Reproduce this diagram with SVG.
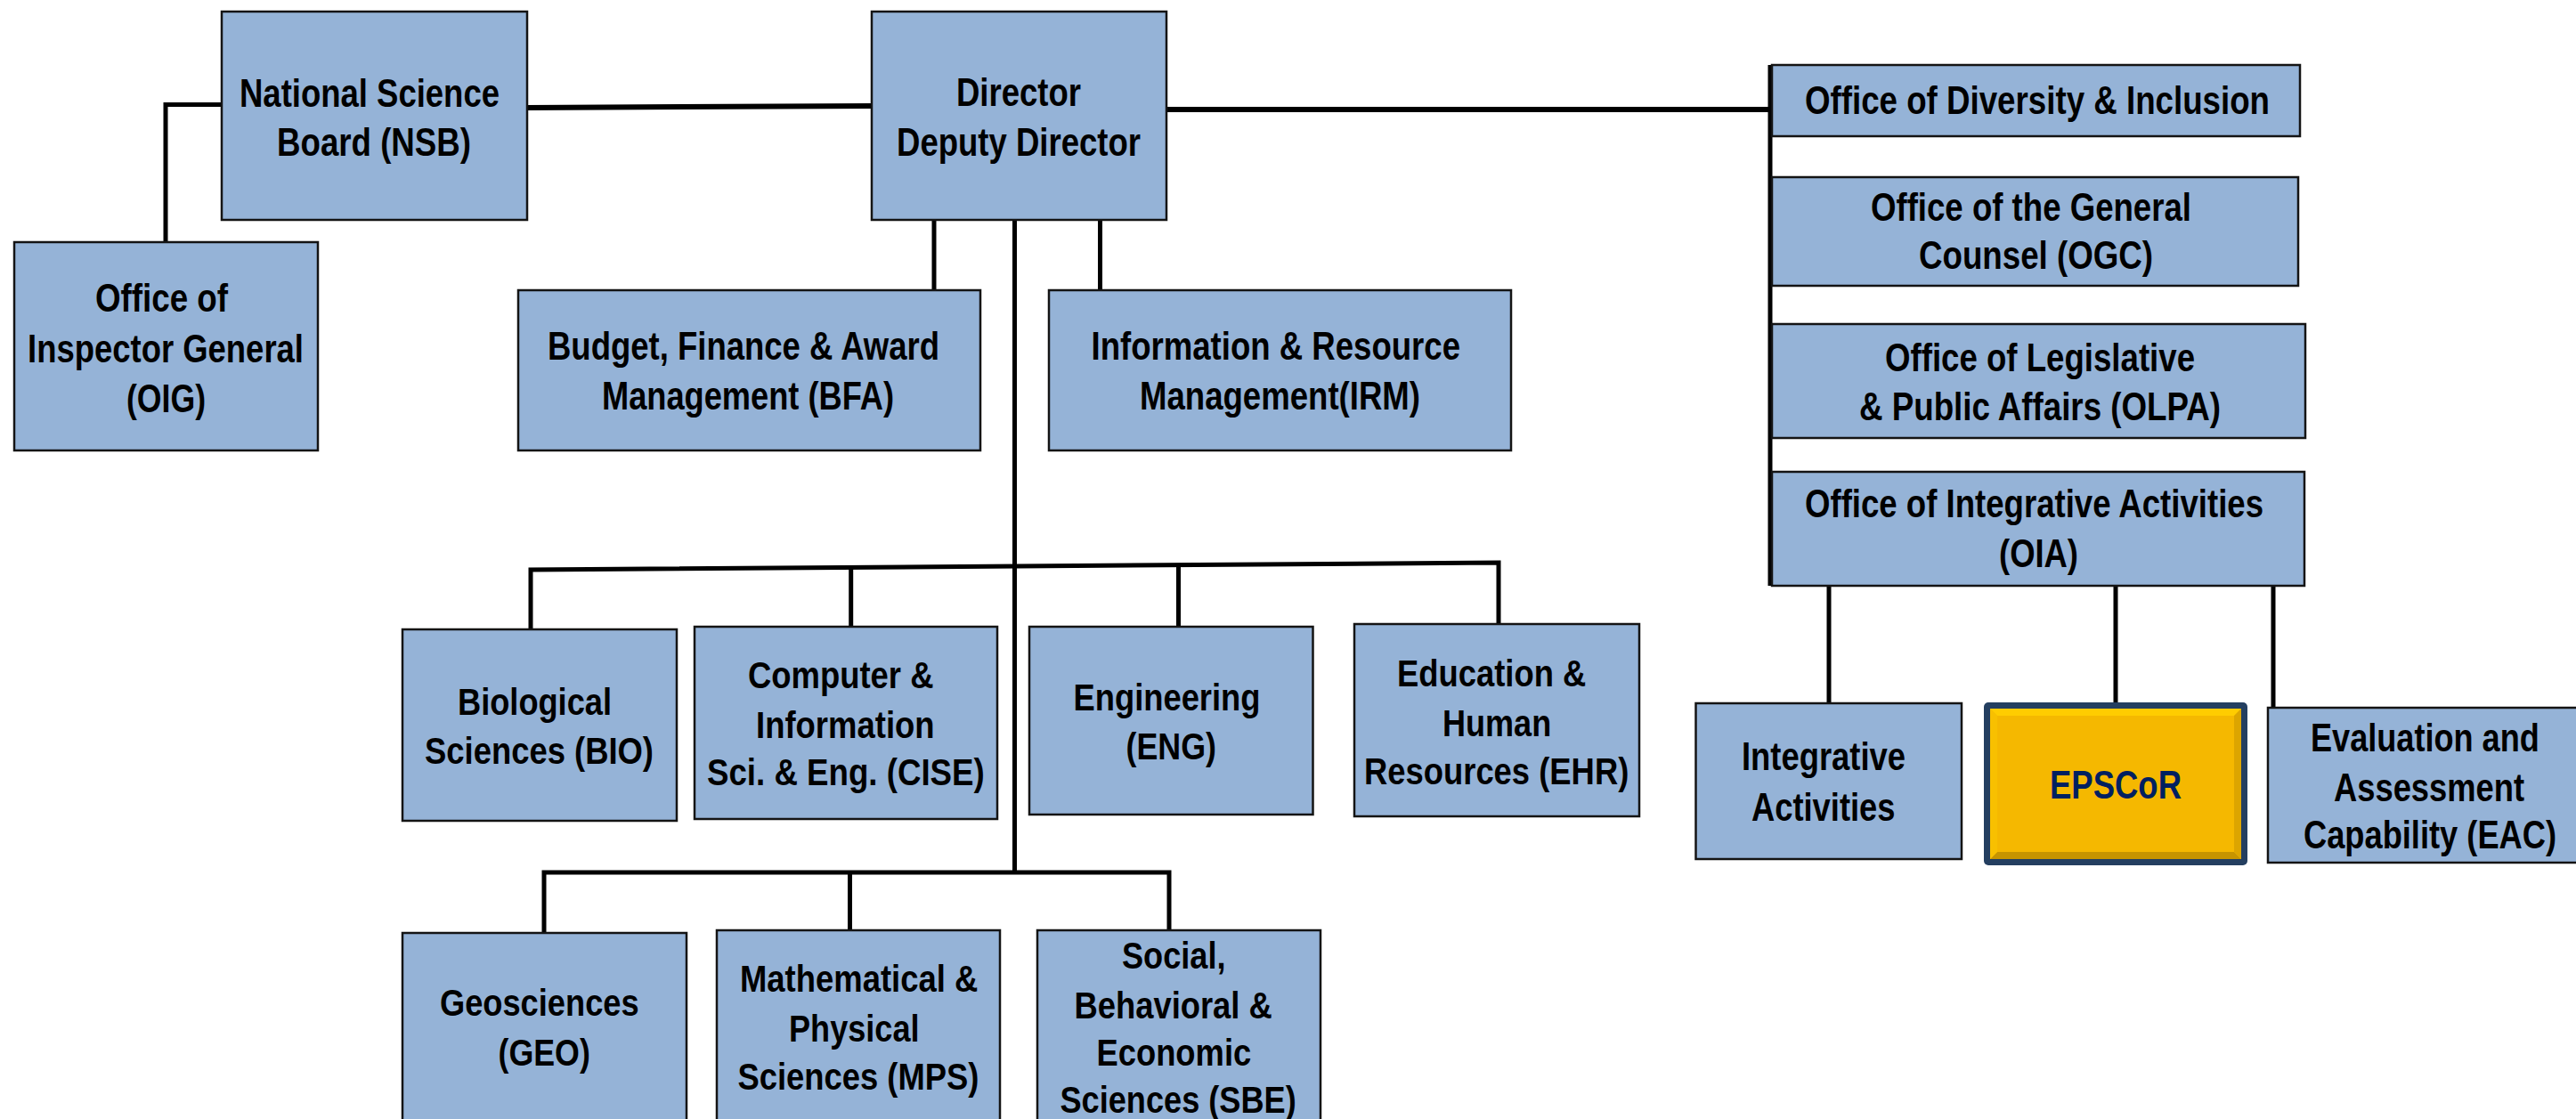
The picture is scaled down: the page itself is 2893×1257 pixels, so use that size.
<svg xmlns="http://www.w3.org/2000/svg" width="2893" height="1257" viewBox="0 0 2893 1257">
<style>
.box{fill:#95B3D7;stroke:#141414;stroke-width:2.5}
.t{font-family:"Liberation Sans Narrow","Liberation Sans",Arial,sans-serif;font-weight:bold;font-size:44px;fill:#000}
.d{font-size:42px}
.c{fill:none;stroke:#000;stroke-width:5;stroke-linejoin:miter;stroke-linecap:butt}
.thick{stroke-width:6}
</style>
<rect x="0" y="0" width="2893" height="1257" fill="#fff"/>
<g id="connectors">
<path class="c" d="M249,117.5 H186 V272"/>
<path class="c thick" d="M592,121 L979,119"/>
<path class="c thick" d="M1310,123 H1990"/>
<path class="c" d="M1988,73 V658"/>
<path class="c" d="M1049,247 V326"/>
<path class="c" d="M1235.5,247 V326"/>
<path class="c" d="M1139.5,247 V980"/>
<path class="c" d="M596,707 V640 L1683,632 V701"/>
<path class="c" d="M955.7,637 V704"/>
<path class="c" d="M1323.5,634 V704"/>
<path class="c" d="M611,1048 V980 H1313 V1045"/>
<path class="c" d="M954.5,980 V1045"/>
<path class="c" d="M2054,658 V790"/>
<path class="c" d="M2376,658 V790"/>
<path class="c" d="M2553,658 V795"/>
</g>
<g id="nsb"><rect class="box" x="249" y="13" width="343" height="234"/>
<text class="t" x="269" y="120" textLength="292" lengthAdjust="spacingAndGlyphs">National Science</text>
<text class="t" x="311" y="175" textLength="218" lengthAdjust="spacingAndGlyphs">Board (NSB)</text></g>
<g id="oig"><rect class="box" x="16" y="272" width="341" height="234"/>
<text class="t" x="107" y="350" textLength="149" lengthAdjust="spacingAndGlyphs">Office of</text>
<text class="t" x="31" y="407" textLength="310" lengthAdjust="spacingAndGlyphs">Inspector General</text>
<text class="t" x="142" y="463" textLength="89" lengthAdjust="spacingAndGlyphs">(OIG)</text></g>
<g id="director"><rect class="box" x="979" y="13" width="331" height="234"/>
<text class="t" x="1074" y="119" textLength="140" lengthAdjust="spacingAndGlyphs">Director</text>
<text class="t" x="1007" y="175" textLength="274" lengthAdjust="spacingAndGlyphs">Deputy Director</text></g>
<g id="bfa"><rect class="box" x="582" y="326" width="519" height="180"/>
<text class="t" x="615" y="404" textLength="440" lengthAdjust="spacingAndGlyphs">Budget, Finance &amp; Award</text>
<text class="t" x="676" y="460" textLength="328" lengthAdjust="spacingAndGlyphs">Management (BFA)</text></g>
<g id="irm"><rect class="box" x="1178" y="326" width="519" height="180"/>
<text class="t" x="1225.5" y="404" textLength="414.5" lengthAdjust="spacingAndGlyphs">Information &amp; Resource</text>
<text class="t" x="1280" y="460" textLength="315" lengthAdjust="spacingAndGlyphs">Management(IRM)</text></g>
<g id="odi"><rect class="box" x="1990" y="73" width="593" height="80"/>
<text class="t" x="2027" y="128" textLength="522" lengthAdjust="spacingAndGlyphs">Office of Diversity &amp; Inclusion</text></g>
<g id="ogc"><rect class="box" x="1990" y="199" width="591" height="122"/>
<text class="t" x="2101" y="248" textLength="360" lengthAdjust="spacingAndGlyphs">Office of the General</text>
<text class="t" x="2155" y="302" textLength="263" lengthAdjust="spacingAndGlyphs">Counsel (OGC)</text></g>
<g id="olpa"><rect class="box" x="1990" y="364" width="599" height="128"/>
<text class="t" x="2117" y="417" textLength="348" lengthAdjust="spacingAndGlyphs">Office of Legislative</text>
<text class="t" x="2088" y="472" textLength="406" lengthAdjust="spacingAndGlyphs">&amp; Public Affairs (OLPA)</text></g>
<g id="oia"><rect class="box" x="1990" y="530" width="598" height="128"/>
<text class="t" x="2027" y="581" textLength="515" lengthAdjust="spacingAndGlyphs">Office of Integrative Activities</text>
<text class="t" x="2245" y="637" textLength="89" lengthAdjust="spacingAndGlyphs">(OIA)</text></g>
<g id="ia"><rect class="box" x="1904.5" y="790" width="298.5" height="175"/>
<text class="t" x="1956" y="865" textLength="184" lengthAdjust="spacingAndGlyphs">Integrative</text>
<text class="t" x="1967" y="922" textLength="161.5" lengthAdjust="spacingAndGlyphs">Activities</text></g>
<g id="epscor">
<rect x="2228" y="789" width="296" height="183" rx="5" fill="#243F60"/>
<rect x="2235" y="796" width="282" height="169" fill="#F5B800"/>
<polygon points="2235,796 2517,796 2509,804 2243,804" fill="#FFCC00"/>
<polygon points="2235,965 2517,965 2509,957 2243,957" fill="#C69400"/>
<polygon points="2235,796 2243,804 2243,957 2235,965" fill="#F8C000"/>
<polygon points="2517,796 2509,804 2509,957 2517,965" fill="#DCA500"/>
<text class="t" x="2302" y="897" textLength="148" lengthAdjust="spacingAndGlyphs" style="fill:#002060">EPSCoR</text></g>
<g id="eac"><rect class="box" x="2547" y="795" width="349" height="174"/>
<text class="t" x="0" y="0" transform="translate(2595,844) scale(0.8,1)" textLength="321" lengthAdjust="spacingAndGlyphs">Evaluation and</text>
<text class="t" x="0" y="0" transform="translate(2621,900) scale(0.8,1)" textLength="267.5" lengthAdjust="spacingAndGlyphs">Assessment</text>
<text class="t" x="0" y="0" transform="translate(2587,953) scale(0.8,1)" textLength="355" lengthAdjust="spacingAndGlyphs">Capability (EAC)</text></g>
<g id="bio"><rect class="box" x="452" y="707" width="308" height="215"/>
<text class="t d" x="514" y="803" textLength="173" lengthAdjust="spacingAndGlyphs">Biological</text>
<text class="t d" x="477" y="858" textLength="257" lengthAdjust="spacingAndGlyphs">Sciences (BIO)</text></g>
<g id="cise"><rect class="box" x="780" y="704" width="340" height="216"/>
<text class="t d" x="840" y="773" textLength="208.5" lengthAdjust="spacingAndGlyphs">Computer &amp;</text>
<text class="t d" x="849" y="829" textLength="200.6" lengthAdjust="spacingAndGlyphs">Information</text>
<text class="t d" x="794" y="882" textLength="311.7" lengthAdjust="spacingAndGlyphs">Sci. &amp; Eng. (CISE)</text></g>
<g id="eng"><rect class="box" x="1156" y="704" width="318.5" height="211"/>
<text class="t d" x="1205.5" y="798" textLength="210" lengthAdjust="spacingAndGlyphs">Engineering</text>
<text class="t d" x="1264.5" y="853" textLength="101.5" lengthAdjust="spacingAndGlyphs">(ENG)</text></g>
<g id="ehr"><rect class="box" x="1521" y="701" width="320" height="216"/>
<text class="t d" x="1569" y="771" textLength="212.3" lengthAdjust="spacingAndGlyphs">Education &amp;</text>
<text class="t d" x="1620" y="827" textLength="122.2" lengthAdjust="spacingAndGlyphs">Human</text>
<text class="t d" x="1532" y="881" textLength="297.3" lengthAdjust="spacingAndGlyphs">Resources (EHR)</text></g>
<g id="geo"><rect class="box" x="452" y="1048" width="319" height="240"/>
<text class="t d" x="494" y="1141" textLength="223.6" lengthAdjust="spacingAndGlyphs">Geosciences</text>
<text class="t d" x="559.5" y="1197" textLength="103.3" lengthAdjust="spacingAndGlyphs">(GEO)</text></g>
<g id="mps"><rect class="box" x="805" y="1045" width="318" height="240"/>
<text class="t d" x="831" y="1114" textLength="267.2" lengthAdjust="spacingAndGlyphs">Mathematical &amp;</text>
<text class="t d" x="886" y="1170" textLength="146.5" lengthAdjust="spacingAndGlyphs">Physical</text>
<text class="t d" x="828.5" y="1224" textLength="270.9" lengthAdjust="spacingAndGlyphs">Sciences (MPS)</text></g>
<g id="sbe"><rect class="box" x="1165" y="1045" width="318" height="240"/>
<text class="t d" x="1260" y="1088" textLength="116.5" lengthAdjust="spacingAndGlyphs">Social,</text>
<text class="t d" x="1206.5" y="1144" textLength="222.3" lengthAdjust="spacingAndGlyphs">Behavioral &amp;</text>
<text class="t d" x="1231.5" y="1197" textLength="173.7" lengthAdjust="spacingAndGlyphs">Economic</text>
<text class="t d" x="1190.5" y="1250" textLength="265.2" lengthAdjust="spacingAndGlyphs">Sciences (SBE)</text></g>
</svg>
